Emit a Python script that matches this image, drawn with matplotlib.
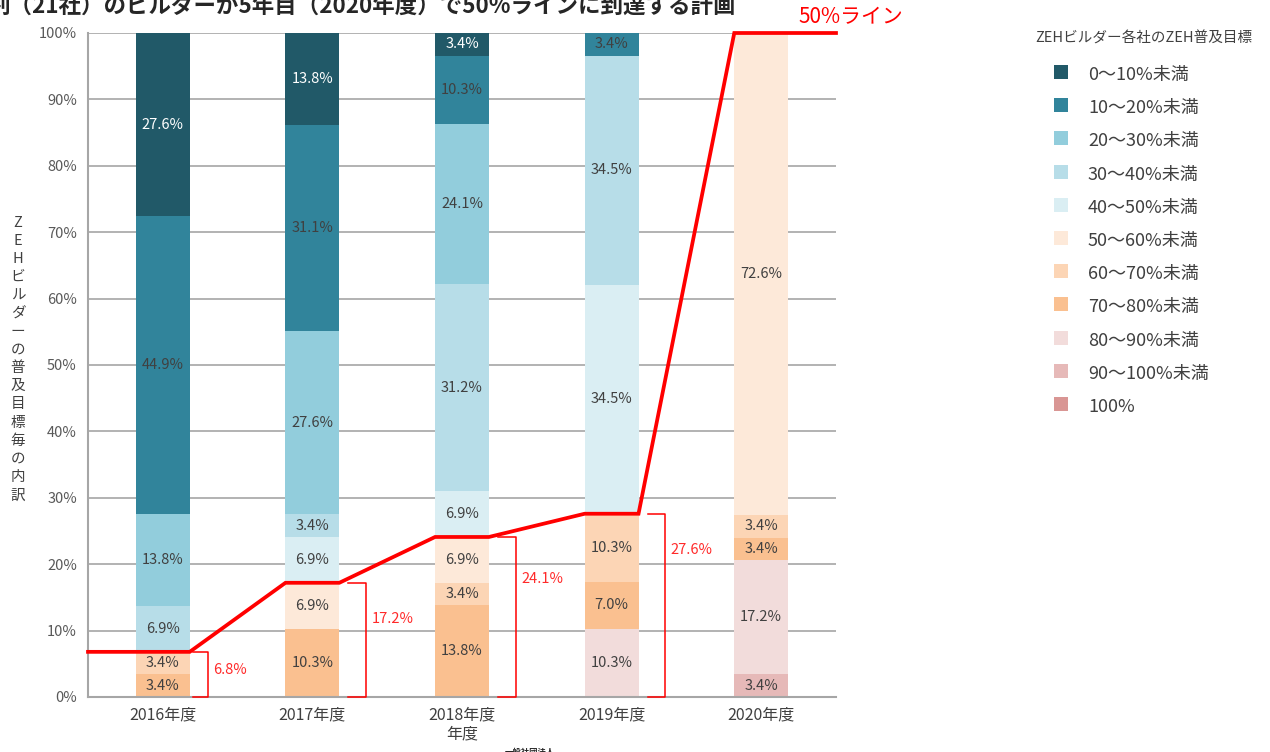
import matplotlib
matplotlib.use("Agg")
import matplotlib.pyplot as plt
from matplotlib.patches import Rectangle
import numpy as np

plt.rcParams['font.family'] = ['Noto Sans CJK JP', 'DejaVu Sans']

# ---------------- data ----------------
years = ["2016年度", "2017年度", "2018年度", "2019年度", "2020年度"]
categories = ["0〜10%未満", "10〜20%未満", "20〜30%未満", "30〜40%未満", "40〜50%未満",
              "50〜60%未満", "60〜70%未満", "70〜80%未満", "80〜90%未満", "90〜100%未満", "100%"]
colors = ["#215968", "#31849b", "#92cddc", "#b7dde8", "#daeef3",
          "#fde9d9", "#fcd5b5", "#fac090", "#f2dcdb", "#e6b9b8", "#d99694"]

# share (%) per category for each year
share_0_10   = [27.6, 13.8, 3.4, 0.0, 0.0]
share_10_20  = [44.9, 31.1, 10.3, 3.4, 0.0]
share_20_30  = [13.8, 27.6, 24.1, 0.0, 0.0]
share_30_40  = [6.9, 3.4, 31.2, 34.5, 0.0]
share_40_50  = [0.0, 6.9, 6.9, 34.5, 0.0]
share_50_60  = [0.0, 6.9, 6.9, 0.0, 72.6]
share_60_70  = [3.4, 0.0, 3.4, 10.3, 3.4]
share_70_80  = [3.4, 10.3, 13.8, 7.0, 3.4]
share_80_90  = [0.0, 0.0, 0.0, 10.3, 17.2]
share_90_100 = [0.0, 0.0, 0.0, 0.0, 3.4]
share_100    = [0.0, 0.0, 0.0, 0.0, 0.0]

line_values = [6.8, 17.2, 24.1, 27.6, 100.0]          # share at 50% or above
bracket_labels = ["6.8%", "17.2%", "24.1%", "27.6%"]

shares = [share_0_10, share_10_20, share_20_30, share_30_40, share_40_50,
          share_50_60, share_60_70, share_70_80, share_80_90, share_90_100, share_100]

# ---------------- figure ----------------
fig = plt.figure(figsize=(12.7, 7.52), dpi=100)
ax = fig.add_axes([88/1270, 1-697/752, (836-88)/1270, (697-33)/752])

x = np.arange(len(years))
w = 0.36
grid_c = "#a6a6a6"
dark_txt = "#404040"

# stack from bottom: highest target category at the bottom
order = list(range(len(categories)))[::-1]
bottom = np.zeros(len(years))
for k in order:
    vals = np.array(shares[k])
    ax.bar(x, vals, w, bottom=bottom, color=colors[k], zorder=2, linewidth=0)
    for i, v in enumerate(vals):
        if v > 0:
            ax.text(x[i], bottom[i] + v/2, f"{v:.1f}%", ha="center", va="center",
                    fontsize=10.5, color="white" if k == 0 else dark_txt, zorder=4)
    bottom += vals

# red step line
lx, ly = [], []
for i, v in enumerate(line_values):
    left = -0.5 if i == 0 else x[i] - w/2
    right = 4.5 if i == len(line_values) - 1 else x[i] + w/2
    lx += [left, right]
    ly += [v, v]
ax.plot(lx, ly, color="#ff0000", lw=2.7, zorder=5, solid_joinstyle="miter", clip_on=False)

# brackets
label_frac = [0.6, 0.68, 0.74, 0.8]
for i, v in enumerate(line_values[:4]):
    xa = x[i] + w/2 + (0.02 if i == 0 else 0.06)
    xv = x[i] + w/2 + (0.12 if i == 0 else 0.18)
    ax.plot([xa, xv, xv, xa], [v, v, 0, 0], color="#ff0000", lw=1.1, zorder=5, clip_on=False)
    ax.text(xv + 0.035, v*label_frac[i], bracket_labels[i], color="#ff2a2a",
            fontsize=10.5, ha="left", va="center")

ax.text(4.6, 102.4, "50%ライン", color="#ff0000", fontsize=15, ha="center", va="center")

# axes styling
ax.set_xlim(-0.5, 4.5)
ax.set_ylim(0, 100)
ax.set_yticks(np.arange(0, 101, 10))
ax.set_yticklabels([f"{t}%" for t in range(0, 101, 10)])
ax.set_xticks(x)
ax.set_xticklabels(years)
ax.tick_params(axis="both", length=0, labelsize=10.5, colors="#404040")
ax.tick_params(axis="y", pad=8, colors="#595959")
ax.tick_params(axis="x", pad=7, labelsize=11.5)
ax.yaxis.grid(True, color=grid_c, lw=1.2, zorder=0)
ax.set_axisbelow(True)
for s in ["top", "right"]:
    ax.spines[s].set_visible(False)
for s in ["left", "bottom"]:
    ax.spines[s].set_color(grid_c)
    ax.spines[s].set_linewidth(1.5)
ax.set_xlabel("年度", fontsize=11.5, color="#404040", labelpad=1)

# vertical y label
fig.text(18/1270, 1-359/752, "\n".join("ZEHビルダーの普及目標毎の内訳"), ha="center", va="center",
         fontsize=10.5, color="#404040", linespacing=1.38)

# title (cut at top in the reference)
fig.text(-13/1270, 1-13/752, "割（21社）のビルダーが5年目（2020年度）で50%ラインに到達する計画",
         fontsize=16.2, fontweight="bold", color="#262626", ha="left", va="baseline")
fig.text(505/1270, 0.0, "一般社団法人", fontsize=6, fontweight="bold", color="#262626",
         ha="left", va="center")

# legend (manual)
fig.text(1035/1270, 1-39/752, "ZEHビルダー各社のZEH普及目標", fontsize=10.5, color="#404040",
         ha="left", va="center")
for i, (c, lab) in enumerate(zip(colors, categories)):
    yc = 72 + 33.2*i
    fig.add_artist(Rectangle((1054/1270, 1-(yc+7)/752), 14/1270, 14/752,
                             transform=fig.transFigure, color=c, lw=0))
    fig.text(1088/1270, 1-(yc+3)/752, lab, fontsize=13, color="#404040", ha="left", va="center")

fig.savefig("out.png", dpi=100)
